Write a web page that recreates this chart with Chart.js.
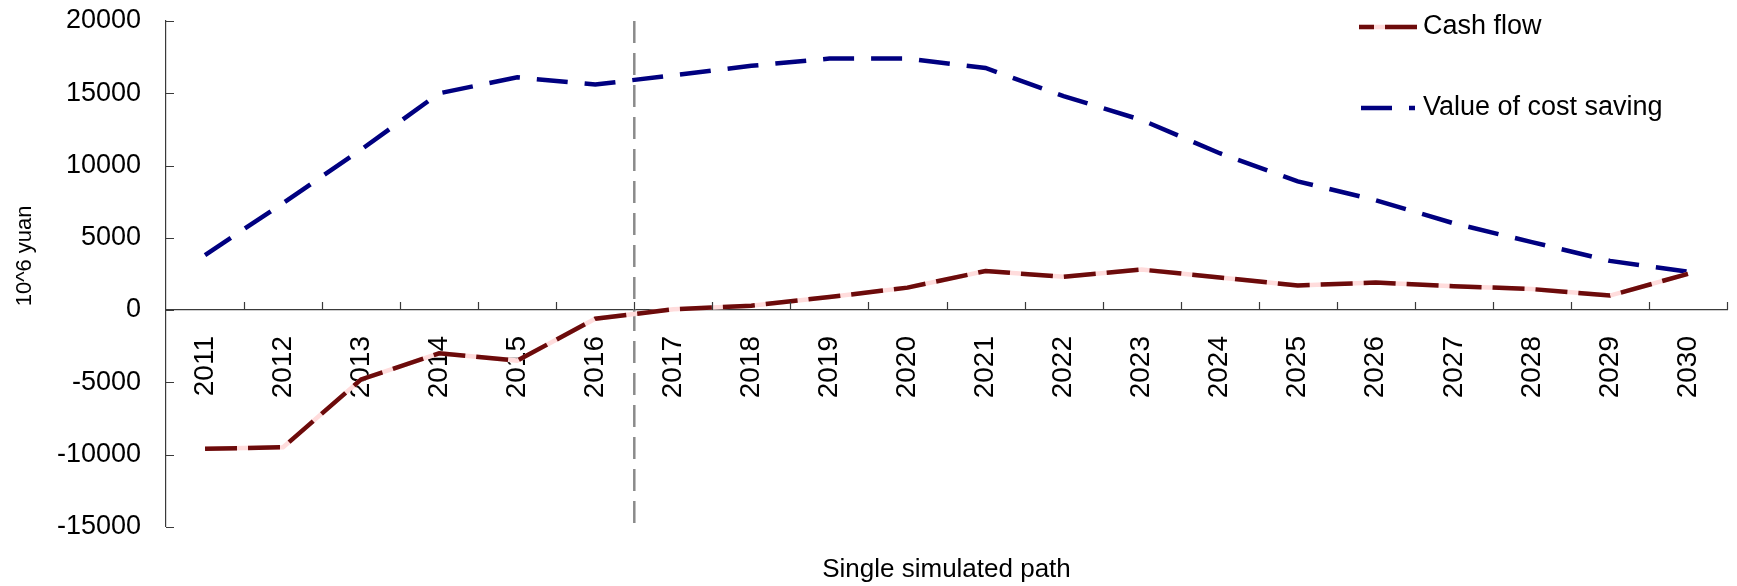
<!DOCTYPE html>
<html>
<head>
<meta charset="utf-8">
<script src="https://cdn.jsdelivr.net/npm/chart.js@4.4.1/dist/chart.umd.min.js"></script>
<style>
  html, body { margin: 0; padding: 0; background: #fff; }
  #wrap { width: 1737px; height: 586px; }
</style>
</head>
<body>
<div id="wrap"><canvas id="c" width="1737" height="586"></canvas></div>
<script>
// Years of the simulated path
const years = ['2011','2012','2013','2014','2015','2016','2017','2018','2019','2020',
               '2021','2022','2023','2024','2025','2026','2027','2028','2029','2030'];

// Cash flow, 10^6 yuan
const cashFlow = [-9600, -9500, -4800, -3000, -3500, -600, 50, 300, 900, 1550,
                  2700, 2300, 2800, 2250, 1700, 1900, 1650, 1450, 1000, 2500];

// Value of cost saving, 10^6 yuan
const costSaving = [3800, 7400, 11100, 15000, 16100, 15600, 16250, 16900, 17400, 17400,
                    16750, 14800, 13150, 10850, 8900, 7600, 6000, 4700, 3400, 2650];

// Value axis ticks
const yTicks = [-15000, -10000, -5000, 0, 5000, 10000, 15000, 20000];

// Last year before the dashed separator
const splitYear = '2016';

const seriesNames = ['Cash flow', 'Value of cost saving'];
const xTitle = 'Single simulated path';
const yTitle = '10^6 yuan';

const FONT = '"Liberation Sans", Arial, Helvetica, sans-serif';
Chart.defaults.font.family = FONT;
Chart.defaults.color = '#000';

const DARK_RED = '#6c0b0b';
const PINK = '#ffdcdc';
const NAVY = '#000080';
const AXIS = '#3a3a3a';

// Inward tick marks on the value axis, upward marks between categories
const axisTicks = {
  id: 'axisTicks',
  afterDatasetsDraw(chart) {
    const { ctx, scales: { x, y } } = chart;
    const y0 = y.getPixelForValue(0);
    ctx.save();
    ctx.strokeStyle = AXIS;
    ctx.lineWidth = 1.2;
    ctx.beginPath();
    y.ticks.forEach(t => {
      const py = Math.round(y.getPixelForValue(t.value)) + 0.5;
      ctx.moveTo(x.left, py);
      ctx.lineTo(x.left + 8, py);
    });
    for (let i = 1; i <= years.length; i++) {
      const px = Math.round(x.getPixelForValue(i - 0.5)) + 0.5;
      ctx.moveTo(px, y0);
      ctx.lineTo(px, y0 - 8);
    }
    ctx.stroke();
    ctx.restore();
  }
};

// Dashed separator between the historical and the projected years
const splitLine = {
  id: 'splitLine',
  beforeDatasetsDraw(chart) {
    const { ctx, chartArea, scales: { x } } = chart;
    const px = x.getPixelForValue(years.indexOf(splitYear) + 0.5);
    ctx.save();
    ctx.strokeStyle = '#8a8a8a';
    ctx.lineWidth = 2.5;
    ctx.setLineDash([22, 10]);
    ctx.beginPath();
    ctx.moveTo(px, chartArea.top);
    ctx.lineTo(px, chartArea.bottom);
    ctx.stroke();
    ctx.restore();
  }
};

// Rotated value-axis title, set a little above the middle of the axis
const valueTitle = {
  id: 'valueTitle',
  afterDraw(chart) {
    const { ctx, chartArea } = chart;
    ctx.save();
    ctx.translate(25, (chartArea.top + chartArea.bottom) / 2 - 18);
    ctx.rotate(-Math.PI / 2);
    ctx.fillStyle = '#000';
    ctx.font = '22px ' + FONT;
    ctx.textAlign = 'center';
    ctx.textBaseline = 'middle';
    ctx.fillText(yTitle, 0, 0);
    ctx.restore();
  }
};

// Series key in the upper right corner
const seriesKey = {
  id: 'seriesKey',
  afterDraw(chart) {
    const { ctx, chartArea } = chart;
    const x0 = chartArea.right - 368;
    const tx = chartArea.right - 304;
    const rows = [chartArea.top + 6, chartArea.top + 87];
    ctx.save();
    ctx.lineWidth = 4.5;
    ctx.lineCap = 'butt';
    // cash flow: pink base with dark red dashes
    ctx.strokeStyle = PINK;
    ctx.beginPath(); ctx.moveTo(x0, rows[0]); ctx.lineTo(x0 + 58, rows[0]); ctx.stroke();
    ctx.strokeStyle = DARK_RED;
    ctx.setLineDash([32, 11]);
    ctx.lineDashOffset = 17;
    ctx.beginPath(); ctx.moveTo(x0, rows[0]); ctx.lineTo(x0 + 58, rows[0]); ctx.stroke();
    // cost saving: navy dashes
    ctx.strokeStyle = NAVY;
    ctx.setLineDash([31, 17]);
    ctx.lineDashOffset = 0;
    ctx.beginPath(); ctx.moveTo(x0 + 2, rows[1]); ctx.lineTo(x0 + 56, rows[1]); ctx.stroke();
    ctx.setLineDash([]);
    ctx.fillStyle = '#000';
    ctx.font = '27px ' + FONT;
    ctx.textBaseline = 'middle';
    ctx.textAlign = 'left';
    ctx.fillText(seriesNames[0], tx, rows[0]);
    ctx.fillText(seriesNames[1], tx, rows[1]);
    ctx.restore();
  }
};

new Chart(document.getElementById('c'), {
  type: 'line',
  data: {
    labels: years,
    datasets: [
      {
        label: seriesNames[0],
        data: cashFlow,
        borderColor: DARK_RED,
        borderWidth: 4.5,
        borderDash: [32, 11],
        pointRadius: 0,
        tension: 0
      },
      {
        label: seriesNames[0] + ' base',
        data: cashFlow,
        borderColor: PINK,
        borderWidth: 4.5,
        pointRadius: 0,
        tension: 0
      },
      {
        label: seriesNames[1],
        data: costSaving,
        borderColor: NAVY,
        borderWidth: 4.5,
        borderDash: [31, 17],
        pointRadius: 0,
        tension: 0
      }
    ]
  },
  options: {
    responsive: false,
    animation: false,
    layout: { padding: { left: 0, right: 10, top: 21, bottom: 0 } },
    plugins: {
      legend: { display: false },
      tooltip: { enabled: false },
      title: {
        display: true,
        position: 'bottom',
        fullSize: false,
        text: xTitle,
        color: '#000',
        font: { size: 26, weight: 'normal', lineHeight: 1.2 },
        padding: { top: 27, bottom: 1 }
      }
    },
    scales: {
      x: {
        type: 'category',
        offset: true,
        position: { y: 0 },
        afterFit(scale) { scale.paddingLeft = 0; scale.paddingRight = 0; },
        grid: { display: false, drawTicks: false },
        border: { display: true, color: AXIS, width: 1.2 },
        ticks: {
          autoSkip: false,
          minRotation: 90,
          maxRotation: 90,
          padding: 26,
          font: { size: 28 },
          color: '#000'
        }
      },
      y: {
        min: yTicks[0],
        max: yTicks[yTicks.length - 1],
        afterBuildTicks(scale) { scale.ticks = yTicks.map(v => ({ value: v })); },
        afterFit(scale) {
          scale.width = 166;
          scale.paddingTop = 16;
          scale.paddingBottom = 16;
        },
        grid: { display: false, drawTicks: false },
        border: { display: true, color: AXIS, width: 1.2 },
        ticks: {
          padding: 25,
          font: { size: 27 },
          color: '#000',
          callback: v => String(v)
        }
      }
    }
  },
  plugins: [splitLine, axisTicks, valueTitle, seriesKey]
});
</script>
</body>
</html>
